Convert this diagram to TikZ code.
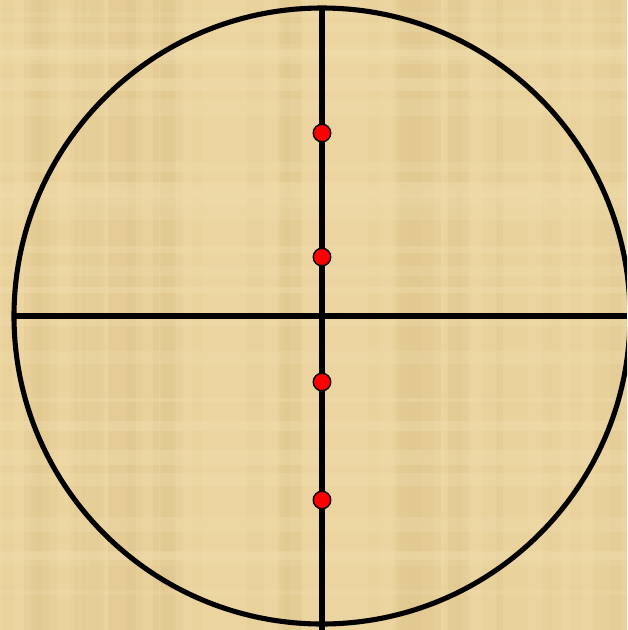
\documentclass[tikz,border=0pt]{standalone}
\usepackage{xcolor}
\definecolor{paper}{HTML}{EBD49F}
\definecolor{paper2}{HTML}{DDC38A}
\definecolor{paper3}{HTML}{F2E0B2}
\definecolor{ink}{HTML}{000000}
\definecolor{dotred}{HTML}{FF0000}
\usetikzlibrary{positioning,calc}

\begin{document}
\begin{tikzpicture}[
  x=0.02cm,y=-0.02cm,
  hair/.style={draw=ink,line width=2.9pt},
  reddot/.style={circle,draw=ink,line width=0.8pt,fill=dotred,
    minimum size=0.35cm,inner sep=0pt}
]
% background, papyrus-like
\clip (0,0) rectangle (627,630);
\fill[paper] (0,0) rectangle (627,630);
\pgfmathsetseed{7}
\foreach \i in {0,...,40}{
  \pgfmathsetmacro{\xa}{rnd*620}
  \pgfmathsetmacro{\wd}{6+rnd*22}
  \pgfmathsetmacro{\op}{0.10+rnd*0.20}
  \fill[paper2,opacity=\op] (\xa,0) rectangle ++(\wd,630);
}
\foreach \i in {0,...,24}{
  \pgfmathsetmacro{\ya}{rnd*620}
  \pgfmathsetmacro{\ht}{4+rnd*14}
  \pgfmathsetmacro{\op}{0.15+rnd*0.25}
  \fill[paper3,opacity=\op] (0,\ya) rectangle ++(627,\ht);
}

% crosshair
\coordinate (mid) at (322,316);
\coordinate (top) at (322,8);
\coordinate (bot) at (322,630);
\coordinate (lft) at (14,316);
\coordinate (rgt) at (627,316);

\draw[hair] (mid) circle[radius=308];
\draw[hair] (top) -- (bot);
\draw[hair] (lft) -- (rgt);

% red dots on the vertical line
\foreach \y [count=\k] in {133,257,382,500}
  \node[reddot] (dot\k) at (322,\y) {};
\end{tikzpicture}
\end{document}
